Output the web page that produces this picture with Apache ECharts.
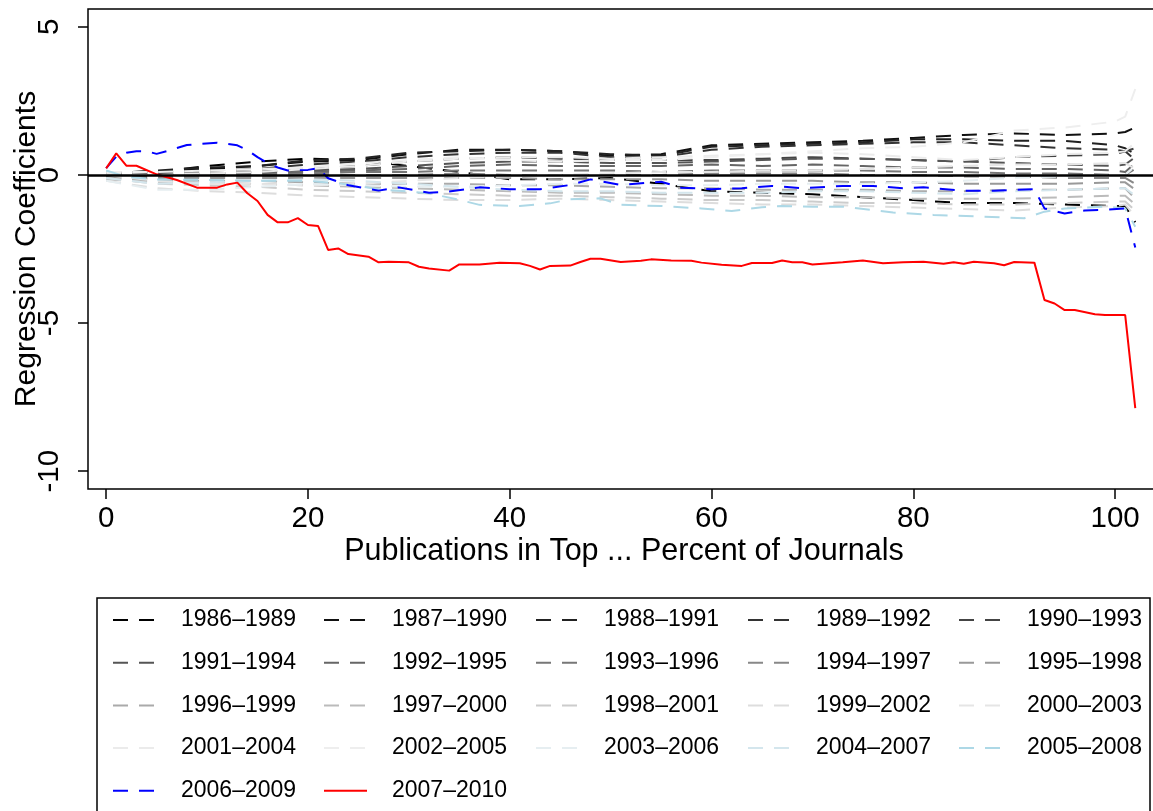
<!DOCTYPE html>
<html>
<head>
<meta charset="utf-8">
<script src="https://cdn.jsdelivr.net/npm/echarts@6/dist/echarts.min.js"></script>
<style>
  html, body { margin: 0; padding: 0; background: #fff; }
  #chart { width: 1153px; height: 811px; }
</style>
</head>
<body>
<div id="chart"></div>
<script>
// x positions (percent of journals) used by the grey period lines
const xCoarse = [0, 5, 10, 15, 20, 25, 30, 35, 40, 45, 50, 55, 60, 65, 70, 75, 80, 85, 90, 95, 100, 101, 102]

const periods = ['1986–1989', '1987–1990', '1988–1991', '1989–1992', '1990–1993',
  '1991–1994', '1992–1995', '1993–1996', '1994–1997', '1995–1998',
  '1996–1999', '1997–2000', '1998–2001', '1999–2002', '2000–2003',
  '2001–2004', '2002–2005', '2003–2006', '2004–2007', '2005–2008',
  '2006–2009', '2007–2010']

const p1986 = [0, 0.1, 0.3, 0.45, 0.55, 0.5, 0.3, 0.1, -0.15, -0.15, -0.1, -0.3, -0.55, -0.6, -0.65, -0.75, -0.85, -0.95, -0.95, -1.0, -1.05, -1.05, -1.6]
const p1987 = [0, 0.1, 0.2, 0.3, 0.45, 0.5, 0.7, 0.85, 0.85, 0.8, 0.65, 0.7, 1.0, 1.05, 1.1, 1.15, 1.25, 1.35, 1.4, 1.35, 1.4, 1.45, 1.6]
const p1988 = [0.05, 0.15, 0.25, 0.3, 0.5, 0.55, 0.75, 0.8, 0.85, 0.8, 0.7, 0.65, 0.95, 1.0, 1.05, 1.1, 1.2, 1.2, 1.15, 1.15, 1.0, 0.9, 0.7]
const p1989 = [0, 0.1, 0.15, 0.2, 0.35, 0.45, 0.6, 0.7, 0.75, 0.75, 0.6, 0.6, 0.85, 0.95, 1.0, 1.05, 1.1, 1.1, 1.0, 0.9, 0.85, 0.8, 0.5]
const p1990 = [0.1, 0.05, 0.05, 0.1, 0.2, 0.3, 0.45, 0.55, 0.6, 0.55, 0.5, 0.5, 0.5, 0.55, 0.6, 0.55, 0.5, 0.45, 0.6, 0.65, 0.7, 0.8, 0.9]
const p1991 = [0, 0, 0.05, 0.1, 0.15, 0.2, 0.3, 0.4, 0.45, 0.45, 0.4, 0.4, 0.45, 0.5, 0.55, 0.55, 0.5, 0.45, 0.4, 0.35, 0.3, 0.35, 0.6]
const p1992 = [-0.05, 0, 0, 0.05, 0.1, 0.15, 0.2, 0.3, 0.35, 0.3, 0.3, 0.3, 0.35, 0.3, 0.35, 0.3, 0.25, 0.25, 0.2, 0.2, 0.15, 0.1, 0.4]
const p1993 = [0, -0.05, -0.05, 0, 0.05, 0.1, 0.1, 0.15, 0.15, 0.15, 0.15, 0.1, 0.15, 0.15, 0.15, 0.15, 0.1, 0.1, 0.05, 0.05, 0, 0, 0.2]
const p1994 = [-0.1, -0.1, -0.05, -0.05, 0, 0, 0, 0.05, 0, 0, 0, 0, 0.05, 0.05, 0.05, 0, 0, -0.05, -0.05, -0.1, -0.1, -0.1, -0.3]
const p1995 = [-0.1, -0.15, -0.1, -0.1, -0.1, -0.1, -0.1, -0.1, -0.1, -0.15, -0.15, -0.15, -0.2, -0.2, -0.2, -0.25, -0.25, -0.3, -0.3, -0.3, -0.25, -0.25, -0.5]
const p1996 = [-0.1, -0.2, -0.2, -0.2, -0.25, -0.3, -0.3, -0.3, -0.35, -0.35, -0.4, -0.45, -0.45, -0.5, -0.5, -0.5, -0.55, -0.55, -0.5, -0.5, -0.45, -0.45, -0.8]
const p1997 = [-0.15, -0.25, -0.25, -0.3, -0.35, -0.4, -0.45, -0.5, -0.55, -0.6, -0.6, -0.65, -0.7, -0.7, -0.75, -0.75, -0.8, -0.8, -0.8, -0.75, -0.7, -0.7, -1.0]
const p1998 = [-0.1, -0.3, -0.35, -0.4, -0.5, -0.55, -0.6, -0.65, -0.7, -0.7, -0.75, -0.8, -0.85, -0.85, -0.9, -0.95, -0.95, -1.0, -1.0, -0.95, -0.9, -0.9, -1.2]
const p1999 = [-0.2, -0.45, -0.55, -0.6, -0.7, -0.75, -0.8, -0.85, -0.85, -0.8, -0.85, -0.9, -0.95, -1.0, -1.0, -1.05, -1.1, -1.15, -1.2, -1.1, -1.05, -1.0, -1.4]
const p2000 = [0, -0.2, -0.3, -0.3, -0.35, -0.3, -0.2, -0.1, -0.05, 0, 0.05, 0.1, 0.1, 0.15, 0.15, 0.2, 0.25, 0.3, 0.35, 0.35, 0.4, 0.4, 0.2]
const p2001 = [0.05, 0, 0.05, 0.1, 0.2, 0.3, 0.45, 0.55, 0.6, 0.6, 0.55, 0.6, 0.65, 0.7, 0.75, 0.7, 0.6, 0.5, 0.6, 0.7, 0.75, 0.8, 1.1]
const p2002 = [0.1, 0.1, 0.15, 0.2, 0.25, 0.4, 0.5, 0.6, 0.5, 0.45, 0.5, 0.5, 0.6, 0.7, 0.8, 0.9, 0.95, 1.1, 1.5, 1.6, 1.8, 1.97, 2.9]
const p2003 = [-0.2, -0.5, -0.5, -0.4, -0.3, -0.35, -0.4, -0.4, -0.35, -0.3, -0.3, -0.35, -0.35, -0.3, -0.3, -0.3, -0.25, -0.2, -0.1, -0.05, 0, 0, 0.3]
const p2004 = [-0.1, -0.3, -0.25, -0.2, -0.15, -0.2, -0.3, -0.4, -0.5, -0.55, -0.55, -0.6, -0.6, -0.6, -0.55, -0.55, -0.6, -0.65, -0.55, -0.5, -0.45, -0.45, -0.7]

// the coloured periods were read more finely
const x2005 = [0, 2, 5, 10, 15, 20, 23, 27, 32, 35, 37, 41, 44, 46, 49, 51, 55, 59, 62, 65, 67, 70, 73, 78, 82, 87, 91, 93, 95, 99, 101, 102]
const p2005 = [0.15, -0.06, -0.15, -0.17, -0.2, -0.2, -0.28, -0.48, -0.62, -0.84, -1.01, -1.05, -0.96, -0.82, -0.79, -1.01, -1.05, -1.13, -1.22, -1.09, -1.05, -1.07, -1.07, -1.27, -1.35, -1.41, -1.46, -1.24, -1.13, -1.07, -1.13, -1.75]

const x2006 = [0, 1, 2, 3, 4, 5, 6, 8, 11, 13, 14, 15, 16, 17, 18, 20, 21, 22, 23, 24, 27, 29, 32, 34, 37, 40, 43, 46, 48, 51, 55, 57, 60, 63, 66, 69, 73, 76, 79, 81, 85, 88, 92, 93, 95, 97, 99, 101, 102]
const p2006 = [0.23, 0.62, 0.75, 0.8, 0.8, 0.71, 0.8, 1.01, 1.09, 1.0, 0.84, 0.6, 0.4, 0.25, 0.15, 0.17, 0.23, -0.11, -0.23, -0.35, -0.53, -0.42, -0.6, -0.56, -0.42, -0.48, -0.48, -0.34, -0.15, -0.34, -0.23, -0.43, -0.48, -0.45, -0.37, -0.45, -0.37, -0.37, -0.45, -0.42, -0.53, -0.53, -0.48, -1.13, -1.3, -1.2, -1.18, -1.13, -2.45]

const x2007 = [0, 1, 2, 3, 5, 7, 9, 11, 12, 13, 14, 15, 16, 17, 18, 19, 20, 21, 22, 23, 24, 26, 27, 28, 30, 31, 32, 34, 35, 37, 39, 41, 42, 43, 44, 46, 47, 48, 49, 51, 53, 54, 56, 58, 59, 61, 63, 64, 66, 67, 68, 69, 70, 73, 75, 77, 79, 81, 83, 84, 85, 86, 88, 89, 90, 92, 93, 94, 95, 96, 98, 99, 101, 102]
const p2007 = [0.22, 0.73, 0.31, 0.31, 0.02, -0.17, -0.43, -0.43, -0.32, -0.26, -0.62, -0.88, -1.35, -1.6, -1.6, -1.46, -1.69, -1.72, -2.53, -2.48, -2.67, -2.76, -2.95, -2.93, -2.95, -3.1, -3.16, -3.23, -3.02, -3.02, -2.96, -2.98, -3.07, -3.19, -3.07, -3.06, -2.94, -2.83, -2.83, -2.94, -2.9, -2.85, -2.89, -2.9, -2.96, -3.03, -3.07, -2.97, -2.97, -2.89, -2.95, -2.95, -3.02, -2.95, -2.89, -2.98, -2.95, -2.93, -3.0, -2.95, -3.0, -2.93, -2.98, -3.05, -2.94, -2.96, -4.22, -4.34, -4.56, -4.56, -4.7, -4.73, -4.73, -7.87]

const xTicks = [0, 20, 40, 60, 80, 100]
const yTicks = [-10, -5, 0, 5]

const periodValues = [p1986, p1987, p1988, p1989, p1990, p1991, p1992, p1993, p1994, p1995,
  p1996, p1997, p1998, p1999, p2000, p2001, p2002, p2003, p2004, p2005, p2006, p2007]
const periodX = periodValues.map((v, i) => i < 19 ? xCoarse : [x2005, x2006, x2007][i - 19])

// grey ramp, then light blue, blue and red
const colors = ['#000000', '#111111', '#222222', '#333333', '#444444', '#555555', '#666666', '#777777',
  '#888888', '#999999', '#aaaaaa', '#bbbbbb', '#cccccc', '#dddddd', '#e5e5e5', '#ebebeb', '#eeeeee',
  '#e6eef1', '#d4e6ed', '#add8e6', '#0000ff', '#ff0000']

const font = 'Liberation Sans, Arial, Helvetica, sans-serif'
const dash = [15, 11]

const chart = echarts.init(document.getElementById('chart'), null, { renderer: 'canvas' })

const series = periods.map((name, i) => {
  const s = {
    name: name,
    type: 'line',
    data: periodValues[i].map((y, k) => [periodX[i][k], y]),
    showSymbol: false,
    symbol: 'none',
    silent: true,
    color: colors[i],
    lineStyle: {
      color: colors[i],
      width: 2,
      type: i === 21 ? 'solid' : dash
    }
  }
  if (i === 0) {
    // abline(h = 0)
    s.markLine = {
      symbol: 'none',
      silent: true,
      label: { show: false },
      lineStyle: { color: '#000', width: 2.5, type: 'solid' },
      data: [{ yAxis: 0 }]
    }
  }
  return s
})

// legend laid out like R's ncol = 5 (filled by rows)
const colLeft = [107, 318, 530, 742, 953]
const legends = colLeft.map((left, c) => ({
  orient: 'vertical',
  left: left,
  top: 603,
  itemWidth: 43,
  itemHeight: 14,
  itemGap: 18.7,
  selectedMode: false,
  itemStyle: { color: 'rgba(0,0,0,0)', borderWidth: 0, opacity: 0 },
  data: periods
    .map((p, i) => ({
      name: p,
      lineStyle: { color: colors[i], width: 2, type: i === 21 ? 'solid' : dash }
    }))
    .filter((p, i) => i % 5 === c),
  textStyle: {
    fontFamily: font,
    fontSize: 23,
    lineHeight: 24,
    color: '#000',
    padding: [0, 0, 0, 20]
  }
}))

chart.setOption({
  animation: false,
  backgroundColor: '#fff',
  grid: {
    left: 88,
    top: 9,
    width: 1072,
    height: 480,
    outerBoundsMode: 'none',
    show: true,
    borderColor: '#000',
    borderWidth: 1.5,
    backgroundColor: 'transparent'
  },
  legend: legends,
  xAxis: {
    type: 'value',
    min: -1.8,
    max: 104.45,
    name: 'Publications in Top ... Percent of Journals',
    nameLocation: 'middle',
    nameGap: 47,
    nameMoveOverlap: false,
    nameTextStyle: { fontFamily: font, fontSize: 30.5, color: '#000' },
    axisLine: { show: false, onZero: false },
    splitLine: { show: false },
    axisTick: { show: true, inside: false, length: 10, lineStyle: { color: '#000', width: 1.5 }, customValues: xTicks },
    axisLabel: { fontFamily: font, fontSize: 29.5, color: '#000', margin: 15, customValues: xTicks }
  },
  yAxis: {
    type: 'value',
    min: -10.6,
    max: 5.6,
    name: 'Regression Coefficients',
    nameLocation: 'middle',
    nameRotate: 90,
    nameGap: 46,
    nameMoveOverlap: false,
    nameTextStyle: { fontFamily: font, fontSize: 30, color: '#000' },
    axisLine: { show: false, onZero: false },
    splitLine: { show: false },
    axisTick: { show: true, inside: false, length: 10, lineStyle: { color: '#000', width: 1.5 }, customValues: yTicks },
    axisLabel: { fontFamily: font, fontSize: 29.5, color: '#000', margin: 23, rotate: 90, customValues: yTicks }
  },
  graphic: [{
    type: 'rect',
    silent: true,
    shape: { x: 97, y: 598, width: 1053, height: 240 },
    style: { fill: 'none', stroke: '#000', lineWidth: 1.5 }
  }],
  series: series
})
</script>
</body>
</html>
